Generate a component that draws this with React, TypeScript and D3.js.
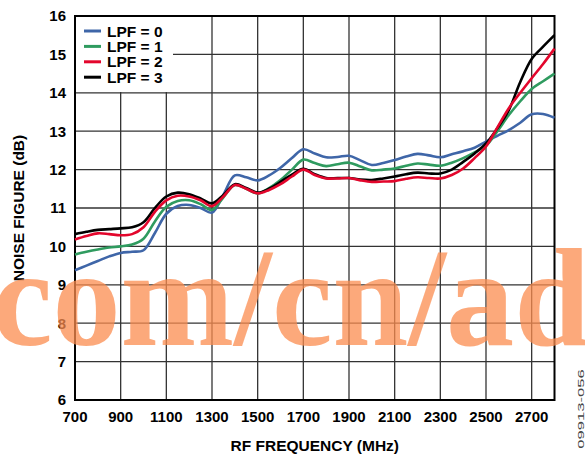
import * as d3 from "d3";

const frequencies = [
  700, 750, 800, 850, 900, 950, 1000, 1050, 1100, 1150, 1200, 1250, 1300,
  1350, 1400, 1450, 1500, 1550, 1600, 1650, 1700, 1750, 1800, 1850, 1900,
  1950, 2000, 2050, 2100, 2150, 2200, 2250, 2300, 2350, 2400, 2450, 2500,
  2550, 2600, 2650, 2700, 2750, 2800,
];

const lpf0 = [
  9.38, 9.5, 9.62, 9.74, 9.83, 9.86, 9.9, 10.35, 10.85, 11.05, 11.08, 11.0,
  10.88, 11.35, 11.85, 11.8, 11.72, 11.85, 12.05, 12.3, 12.53, 12.42, 12.32,
  12.33, 12.36, 12.24, 12.12, 12.17, 12.25, 12.34, 12.41, 12.37, 12.32, 12.4,
  12.48, 12.57, 12.73, 12.88, 13.03, 13.22, 13.44, 13.45, 13.35,
];
const lpf1 = [
  9.79, 9.86, 9.92, 9.97, 10.0, 10.05, 10.2, 10.65, 11.03, 11.18, 11.2, 11.1,
  10.95, 11.28, 11.6, 11.5, 11.38, 11.52, 11.73, 12.0, 12.26, 12.17, 12.09,
  12.14, 12.18, 12.08, 11.98, 12.0, 12.03, 12.1, 12.16, 12.13, 12.1, 12.18,
  12.3, 12.45, 12.62, 13.0, 13.42, 13.78, 14.1, 14.3, 14.5,
];
const lpf2 = [
  10.18, 10.27, 10.34, 10.32, 10.29, 10.32, 10.5, 10.9, 11.2, 11.32, 11.3,
  11.2, 11.05, 11.3, 11.6, 11.5, 11.38, 11.47, 11.62, 11.82, 12.0, 11.86,
  11.77, 11.77, 11.78, 11.72, 11.68, 11.69, 11.7, 11.76, 11.8, 11.78, 11.77,
  11.86, 12.03, 12.3, 12.6, 13.1, 13.6, 14.0, 14.38, 14.75, 15.15,
];
const lpf3 = [
  10.32, 10.38, 10.43, 10.45, 10.47, 10.5, 10.63, 11.0, 11.3, 11.4, 11.36,
  11.25, 11.12, 11.34, 11.62, 11.52, 11.4, 11.5, 11.68, 11.87, 12.02, 11.88,
  11.78, 11.78, 11.78, 11.74, 11.73, 11.77, 11.82, 11.88, 11.92, 11.9, 11.9,
  12.0, 12.2, 12.42, 12.68, 13.08, 13.55, 14.28, 14.88, 15.2, 15.5,
];

const seriesNames = ["LPF = 0", "LPF = 1", "LPF = 2", "LPF = 3"];
const seriesColors = ["#3f66a8", "#2f9b5f", "#e3062c", "#000000"];
const xTicks = [700, 900, 1100, 1300, 1500, 1700, 1900, 2100, 2300, 2500, 2700];
const yTicks = [6, 7, 8, 9, 10, 11, 12, 13, 14, 15, 16];

const width = 585;
const height = 454;
const margin = { left: 75, right: 30.5, top: 16, bottom: 54 };
const font = "'Liberation Sans', Arial, sans-serif";

export default function App() {
  const x = d3
    .scaleLinear()
    .domain([700, 2800])
    .range([margin.left, width - margin.right]);
  const y = d3
    .scaleLinear()
    .domain([6, 16])
    .range([height - margin.bottom, margin.top]);

  const line = d3
    .line<number>()
    .x((_, i) => x(frequencies[i]))
    .y((d) => y(d))
    .curve(d3.curveCatmullRom.alpha(0.5));

  const series = [lpf0, lpf1, lpf2, lpf3];
  // draw order: blue, green, black, red on top near the end
  const drawOrder = [0, 1, 3, 2];

  const [x0, x1] = x.range();
  const [y0, y1] = y.range();

  return (
    <svg
      width={width}
      height={height}
      style={{ position: "absolute", left: 0, top: 0, background: "#fff" }}
    >
      {/* grid */}
      <g stroke="#333" strokeWidth={1.3}>
        {yTicks.slice(1, -1).map((t) => (
          <line key={"h" + t} x1={x0} x2={x1} y1={y(t)} y2={y(t)} />
        ))}
        {xTicks.slice(1).map((t) => (
          <line key={"v" + t} x1={x(t)} x2={x(t)} y1={y1} y2={y0} />
        ))}
      </g>
      <rect
        x={x0}
        y={y1}
        width={x1 - x0}
        height={y0 - y1}
        fill="none"
        stroke="#000"
        strokeWidth={2}
      />

      {/* curves */}
      {drawOrder.map((i) => (
        <path
          key={seriesNames[i]}
          d={line(series[i]) ?? ""}
          fill="none"
          stroke={seriesColors[i]}
          strokeWidth={2.6}
          strokeLinejoin="round"
        />
      ))}

      {/* legend */}
      <rect x={x0 + 1} y={y1 + 1} width={97} height={75} fill="#fff" />
      {seriesNames.map((name, i) => {
        const ly = 31 + i * 15.4;
        return (
          <g key={name}>
            <line
              x1={84}
              x2={101}
              y1={ly}
              y2={ly}
              stroke={seriesColors[i]}
              strokeWidth={3}
            />
            <text
              x={107}
              y={ly + 5.5}
              fontFamily={font}
              fontWeight="bold"
              fontSize={15.5}
              fill="#000"
            >
              {name}
            </text>
          </g>
        );
      })}

      {/* y axis labels */}
      {yTicks.map((t) => (
        <text
          key={"yl" + t}
          x={66}
          y={y(t) + 5.3}
          textAnchor="end"
          fontFamily={font}
          fontWeight="bold"
          fontSize={15}
        >
          {t}
        </text>
      ))}
      {/* x axis labels */}
      {xTicks.map((t) => (
        <text
          key={"xl" + t}
          x={x(t)}
          y={421.5}
          textAnchor="middle"
          fontFamily={font}
          fontWeight="bold"
          fontSize={15}
        >
          {t}
        </text>
      ))}

      <text
        x={(x0 + x1) / 2}
        y={451}
        textAnchor="middle"
        fontFamily={font}
        fontWeight="bold"
        fontSize={15.5}
      >
        RF FREQUENCY (MHz)
      </text>
      <text
        transform={`translate(24,${(y0 + y1) / 2}) rotate(-90)`}
        textAnchor="middle"
        fontFamily={font}
        fontWeight="bold"
        fontSize={15.5}
      >
        NOISE FIGURE (dB)
      </text>

      <text
        transform="translate(584,409) rotate(-90) scale(1.75,1)"
        textAnchor="middle"
        fontFamily={font}
        fontSize={9.5}
        fill="#444"
      >
        09913-056
      </text>

      {/* watermark */}
      <text
        x={-8}
        y={345}
        fontFamily="'Liberation Serif', 'Times New Roman', serif"
        fontWeight="bold"
        fontSize={140}
        fill="#fb8c4f"
        fillOpacity={0.75}
        textLength={598}
        lengthAdjust="spacingAndGlyphs"
      >
        com/cn/ad
      </text>
    </svg>
  );
}
